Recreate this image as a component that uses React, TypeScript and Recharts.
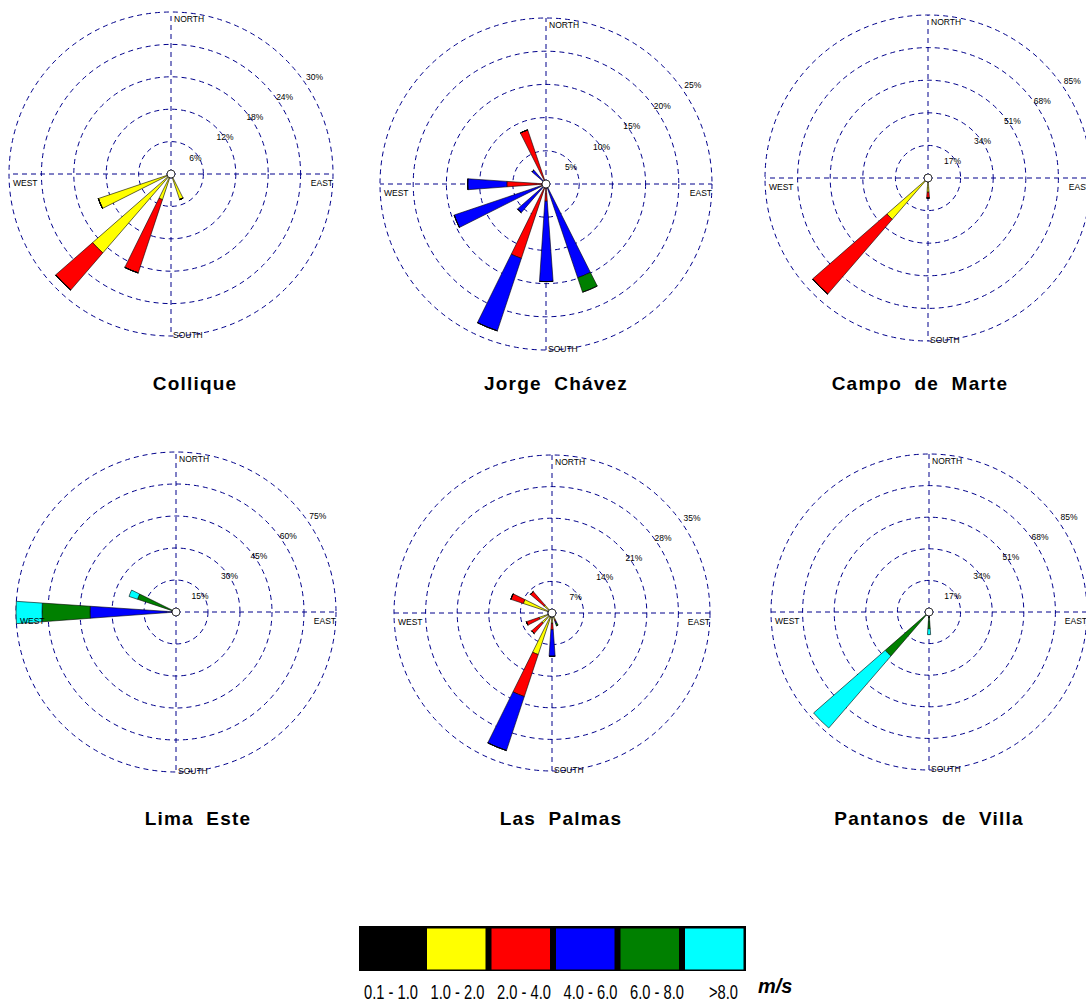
import React from "react";
import { RadialBarChart, RadialBar, PolarGrid, PolarAngleAxis, PolarRadiusAxis } from "recharts";

const DIRECTIONS = ["N", "NNE", "NE", "ENE", "E", "ESE", "SE", "SSE", "S", "SSW", "SW", "WSW", "W", "WNW", "NW", "NNW"];
const SPEED_CLASSES = ["0.1 - 1.0", "1.0 - 2.0", "2.0 - 4.0", "4.0 - 6.0", "6.0 - 8.0", ">8.0"];
const SPEED_COLORS = ["#000000", "#ffff00", "#ff0000", "#0000ff", "#008000", "#00ffff"];
const COMPASS_LABELS: Record<string, string> = { N: "NORTH", E: "EAST", S: "SOUTH", W: "WEST" };
const CROSS_ANGLES = [90, 0, -90, 180];

// frequency (%) by direction N..NNW, one row per speed class
const COLLIQUE = [
  [0, 0, 0, 0, 0, 0, 0, 0.4, 0, 0.5, 0.6, 0.5, 0, 0, 0, 0],
  [0, 0, 0, 0, 0, 0, 0, 4.6, 0, 4.5, 18.7, 13.7, 0, 0, 0, 0],
  [0, 0, 0, 0, 0, 0, 0, 0, 0, 14.3, 9.1, 0, 0, 0, 0, 0],
  [0, 0, 0, 0, 0, 0, 0, 0, 0, 0, 0, 0, 0, 0, 0, 0],
  [0, 0, 0, 0, 0, 0, 0, 0, 0, 0, 0, 0, 0, 0, 0, 0],
  [0, 0, 0, 0, 0, 0, 0, 0, 0, 0, 0, 0, 0, 0, 0, 0],
];
const JORGE_CHAVEZ = [
  [0, 0, 0, 0, 0, 0, 0, 0.3, 0.3, 0.3, 0.3, 0.3, 0.3, 0, 0.3, 0.3],
  [0, 0, 0, 0, 0, 0, 0, 0, 0, 0, 0, 0, 0, 0, 0, 0],
  [0, 0, 0, 0, 0, 0, 0, 0.3, 2.3, 11.5, 0.4, 0.6, 5.6, 0, 0, 8.3],
  [0, 0, 0, 0, 0, 0, 0, 14.3, 12.1, 11.5, 5.0, 13.7, 5.9, 0, 2.5, 0],
  [0, 0, 0, 0, 0, 0, 0, 2.3, 0, 0, 0, 0, 0, 0, 0, 0],
  [0, 0, 0, 0, 0, 0, 0, 0, 0, 0, 0, 0, 0, 0, 0, 0],
];
const CAMPO_DE_MARTE = [
  [0, 0, 0, 0, 0, 0, 0, 0, 1.0, 0, 2.0, 0, 0, 0, 0.8, 0],
  [0, 0, 0, 0, 0, 0, 0, 0, 6.4, 0, 26.5, 0, 0, 0, 1.2, 0],
  [0, 0, 0, 0, 0, 0, 0, 0, 3.1, 0, 51.5, 0, 0, 0, 0, 0],
  [0, 0, 0, 0, 0, 0, 0, 0, 0, 0, 0, 0, 0, 0, 0, 0],
  [0, 0, 0, 0, 0, 0, 0, 0, 0, 0, 0, 0, 0, 0, 0, 0],
  [0, 0, 0, 0, 0, 0, 0, 0, 0, 0, 0, 0, 0, 0, 0, 0],
];
const LIMA_ESTE = [
  [0, 0, 0, 0, 0, 0, 0, 0, 0, 0, 0, 0, 0.5, 0.3, 0, 0],
  [0, 0, 0, 0, 0, 0, 0, 0, 0, 0, 0, 0, 0.5, 0, 0, 0],
  [0, 0, 0, 0, 0, 0, 0, 0, 0, 0, 0, 0, 1.0, 0, 0, 0],
  [0, 0, 0, 0, 0, 0, 0, 0, 0, 0, 0, 0, 38.3, 0.5, 0, 0],
  [0, 0, 0, 0, 0, 0, 0, 0, 0, 0, 0, 0, 22.5, 18.2, 0, 0],
  [0, 0, 0, 0, 0, 0, 0, 0, 0, 0, 0, 0, 12.2, 4.2, 0, 0],
];
const LAS_PALMAS = [
  [0, 0, 0, 0, 0, 0, 0, 0.8, 0.8, 1.0, 1.0, 1.0, 0, 1.0, 0.8, 0],
  [0, 0, 0, 0, 0, 0, 0, 0.8, 1.5, 8.7, 2.0, 2.0, 0, 5.7, 1.5, 0],
  [0, 0, 0, 0, 0, 0, 0, 0.4, 1.4, 9.8, 3.0, 3.0, 0, 2.9, 4.0, 0],
  [0, 0, 0, 0, 0, 0, 0, 0.4, 5.9, 12.6, 0, 0, 0, 0, 0, 0],
  [0, 0, 0, 0, 0, 0, 0, 0.6, 0, 0, 0, 0, 0, 0, 0, 0],
  [0, 0, 0, 0, 0, 0, 0, 0, 0, 0, 0, 0, 0, 0, 0, 0],
];
const PANTANOS_DE_VILLA = [
  [0, 0, 0, 0, 0, 0, 0, 0, 3.0, 0, 1.5, 0, 0, 0, 1.5, 0],
  [0, 0, 0, 0, 0, 0, 0, 0, 0, 0, 0, 0, 0, 0, 0, 0],
  [0, 0, 0, 0, 0, 0, 0, 0, 0, 0, 0, 0, 0, 0, 0, 0],
  [0, 0, 0, 0, 0, 0, 0, 0, 0, 0, 1.0, 0, 0, 0, 0, 0],
  [0, 0, 0, 0, 0, 0, 0, 0, 6.0, 0, 28.8, 0, 0, 0, 0, 0],
  [0, 0, 0, 0, 0, 0, 0, 0, 3.2, 0, 51.2, 0, 0, 0, 0, 0],
];

const STATIONS = [
  { name: "Collique", values: COLLIQUE, ticks: [6, 12, 18, 24, 30], cx: 171, cy: 174, r: 162, tx: 195, ty: 390 },
  { name: "Jorge Chávez", values: JORGE_CHAVEZ, ticks: [5, 10, 15, 20, 25], cx: 546, cy: 184, r: 166, tx: 556, ty: 390 },
  { name: "Campo de Marte", values: CAMPO_DE_MARTE, ticks: [17, 34, 51, 68, 85], cx: 928, cy: 178, r: 163, tx: 920, ty: 390 },
  { name: "Lima Este", values: LIMA_ESTE, ticks: [15, 30, 45, 60, 75], cx: 176, cy: 612, r: 160, tx: 198, ty: 825 },
  { name: "Las Palmas", values: LAS_PALMAS, ticks: [7, 14, 21, 28, 35], cx: 552, cy: 613, r: 158, tx: 561, ty: 825 },
  { name: "Pantanos de Villa", values: PANTANOS_DE_VILLA, ticks: [17, 34, 51, 68, 85], cx: 929, cy: 612, r: 158, tx: 929, ty: 825 },
];

const FONT = "'Liberation Sans', Arial, Helvetica, sans-serif";
const GRID = "#00008b";
const PAD = 26;
const RING_LABEL_ANGLE = 34;

function WindRose({ st }: { st: (typeof STATIONS)[number] }) {
  const c = st.r + PAD;
  const data = DIRECTIONS.map((dir, i) => {
    const row: Record<string, string | number> = { dir };
    st.values.forEach((series, k) => {
      row["s" + k] = series[i];
    });
    return row;
  });

  // ring labels drift a little outward on the larger rings
  const ringLabel = (p: any) => {
    const d = (p.index ?? 0) * 3.5 - 3;
    const a = (RING_LABEL_ANGLE * Math.PI) / 180;
    return (
      <text
        x={p.x + d * Math.cos(a)}
        y={p.y - d * Math.sin(a) + 3}
        textAnchor="middle"
        fontSize={8.5}
        fontFamily={FONT}
        fill="#000"
      >
        {p.payload.value}%
      </text>
    );
  };

  // compass words sit just inside the outer ring, next to the cross lines
  const dirLabel = (p: any) => {
    const v = p.payload.value;
    const label = COMPASS_LABELS[v];
    if (!label) return <g />;
    let x = c + 3;
    let y = c - st.r + 10;
    let anchor = "start";
    if (v === "E") { x = c + st.r; y = c + 12; anchor = "end"; }
    if (v === "S") { x = c + 2; y = c + st.r + 2; }
    if (v === "W") { x = c - st.r + 4; y = c + 12; }
    return (
      <text x={x} y={y} textAnchor={anchor} fontSize={8.5} fontFamily={FONT} fill="#000">
        {label}
      </text>
    );
  };

  return (
    <div style={{ position: "absolute", left: st.cx - c, top: st.cy - c }}>
      <RadialBarChart
        width={c * 2}
        height={c * 2}
        cx={c}
        cy={c}
        innerRadius={0}
        outerRadius={st.r}
        startAngle={78.75}
        endAngle={-281.25}
        layout="centric"
        barCategoryGap="33%"
        margin={{ top: 0, right: 0, bottom: 0, left: 0 }}
        data={data}
      >
        <PolarGrid gridType="circle" polarAngles={CROSS_ANGLES} stroke={GRID} strokeWidth={1} strokeDasharray="5 4" />
        <PolarRadiusAxis
          type="number"
          domain={[0, st.ticks[st.ticks.length - 1]]}
          ticks={st.ticks}
          angle={RING_LABEL_ANGLE}
          axisLine={false}
          tickLine={false}
          tick={ringLabel}
        />
        {SPEED_CLASSES.map((cls, k) => (
          <RadialBar
            key={cls}
            dataKey={"s" + k}
            stackId="a"
            fill={SPEED_COLORS[k]}
            stroke="#000"
            strokeWidth={0.6}
            isAnimationActive={false}
          />
        ))}
        <PolarAngleAxis type="category" dataKey="dir" axisLine={false} tickLine={false} tickSize={0} tick={dirLabel} />
      </RadialBarChart>
    </div>
  );
}

export default function App() {
  const boxStep = 64.5;
  const labelStep = 66.5;
  return (
    <div style={{ position: "absolute", left: 0, top: 0, width: 1086, height: 1003, overflow: "hidden", background: "#fff" }}>
      {STATIONS.map((st) => (
        <WindRose key={st.name} st={st} />
      ))}
      <svg width={1086} height={1003} style={{ position: "absolute", left: 0, top: 0, pointerEvents: "none" }}>
        {STATIONS.map((st) => (
          <g key={st.name}>
            <circle cx={st.cx} cy={st.cy} r={4} fill="#fff" stroke="#000" strokeWidth={0.8} />
            <text
              x={st.tx}
              y={st.ty}
              textAnchor="middle"
              fontSize={19}
              fontWeight="bold"
              fontFamily={FONT}
              letterSpacing={1.2}
              wordSpacing={6}
              fill="#000"
            >
              {st.name}
            </text>
          </g>
        ))}
        <rect x={359} y={926} width={387} height={45} fill="#000" />
        {SPEED_COLORS.map((col, i) => (
          <rect key={col} x={362.5 + i * boxStep} y={928.5} width={58.5} height={41} fill={col} />
        ))}
        {SPEED_CLASSES.map((lab, i) => (
          <g key={lab} transform={`translate(${391 + i * labelStep}, 998.5) scale(0.7, 1)`}>
            <text x={0} y={0} textAnchor="middle" fontSize={21} fontFamily={FONT} fill="#000">
              {lab}
            </text>
          </g>
        ))}
        <text x={758} y={993} fontSize={20} fontWeight="bold" fontStyle="italic" fontFamily={FONT} fill="#000">
          m/s
        </text>
      </svg>
    </div>
  );
}
